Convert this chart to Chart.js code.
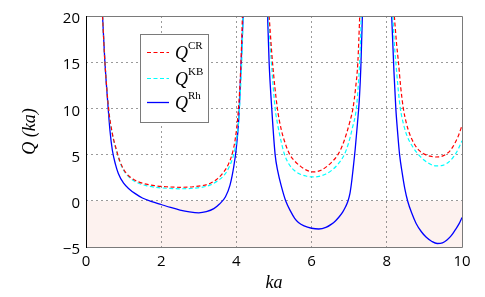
<!DOCTYPE html>
<html>
<head>
<meta charset="utf-8">
<script src="https://cdn.jsdelivr.net/npm/chart.js@4.4.0/dist/chart.umd.min.js"></script>
<style>
  html, body { margin: 0; padding: 0; background: #fff; }
  #wrap { width: 485px; height: 297px; }
</style>
</head>
<body>
<div id="wrap"><canvas id="qChart"></canvas></div>
<script>
// values; a null Q breaks the curve at a pole
const kaCR = [0.44, 0.50, 0.60, 0.70, 0.81, 0.90, 1.00, 1.10, 1.25, 1.40, 1.60, 1.85, 2.14, 2.50, 2.85, 3.10, 3.31, 3.50, 3.66, 3.78, 3.89, 3.97, 4.04, 4.10, 4.13, 4.16,
              4.50,
              4.87, 4.96, 5.09, 5.20, 5.30, 5.42, 5.55, 5.70, 5.85, 6.05, 6.25, 6.40, 6.55, 6.70, 6.82, 6.93, 7.02, 7.10, 7.17, 7.23, 7.28,
              7.70,
              8.20, 8.26, 8.31, 8.37, 8.44, 8.52, 8.62, 8.74, 8.86, 9.00, 9.15, 9.30, 9.45, 9.58, 9.70, 9.80, 9.90, 10.0];
const qCR  = [20, 15.2, 10, 7.3, 5.5, 4.3, 3.4, 2.85, 2.35, 2.05, 1.8, 1.62, 1.52, 1.46, 1.52, 1.65, 1.9, 2.4, 3.1, 3.9, 5.1, 6.7, 9.2, 13, 16, 20,
              null,
              20, 15, 10, 7.6, 6.2, 5.0, 4.3, 3.75, 3.35, 3.12, 3.3, 3.7, 4.25, 5.0, 6.0, 7.3, 8.6, 10, 12.2, 15, 20,
              null,
              20, 17, 15, 12.3, 10, 8.4, 7.1, 6.1, 5.45, 5.05, 4.83, 4.74, 4.8, 5.05, 5.5, 6.15, 7.0, 8.15];

const kaKB = [0.44, 0.50, 0.60, 0.70, 0.81, 0.90, 1.00, 1.10, 1.25, 1.40, 1.60, 1.85, 2.14, 2.50, 2.85, 3.10, 3.31, 3.50, 3.68, 3.80, 3.92, 4.00, 4.07, 4.12, 4.15, 4.18,
              4.50,
              4.85, 4.93, 5.03, 5.10, 5.18, 5.28, 5.40, 5.55, 5.70, 5.85, 6.02, 6.20, 6.38, 6.55, 6.72, 6.87, 6.98, 7.08, 7.19, 7.25, 7.29, 7.32,
              7.70,
              8.16, 8.20, 8.24, 8.30, 8.36, 8.45, 8.55, 8.68, 8.80, 8.95, 9.10, 9.30, 9.45, 9.58, 9.70, 9.80, 9.90, 10.0];
const qKB  = [20, 15.2, 10, 7.2, 5.4, 4.2, 3.3, 2.75, 2.22, 1.9, 1.64, 1.46, 1.36, 1.3, 1.36, 1.48, 1.72, 2.15, 2.8, 3.6, 4.9, 6.5, 9.2, 13, 16, 20,
              null,
              20, 15, 10, 8.2, 6.6, 5.0, 3.95, 3.25, 2.88, 2.68, 2.58, 2.65, 2.9, 3.35, 4.05, 5.0, 6.2, 7.8, 10, 13, 16, 20,
              null,
              20, 17, 15, 12.2, 10, 8.2, 6.9, 5.9, 5.2, 4.55, 4.1, 3.78, 3.8, 4.0, 4.4, 4.9, 5.6, 6.5];

const kaRh = [0.44, 0.50, 0.59, 0.64, 0.70, 0.78, 0.86, 1.00, 1.17, 1.30, 1.50, 1.75, 2.00, 2.25, 2.50, 2.75, 3.00, 3.20, 3.40, 3.55, 3.71, 3.83, 3.93, 4.00, 4.06, 4.13, 4.18,
              4.50,
              4.83, 4.87, 4.94, 5.03, 5.10, 5.20, 5.31, 5.45, 5.55, 5.65, 5.80, 6.00, 6.19, 6.38, 6.52, 6.64, 6.74, 6.83, 6.91, 6.97, 7.02, 7.06, 7.10, 7.16, 7.22, 7.27, 7.31, 7.35,
              7.70,
              8.13, 8.16, 8.19, 8.24, 8.29, 8.34, 8.41, 8.48, 8.56, 8.66, 8.78, 8.92, 9.05, 9.20, 9.34, 9.48, 9.60, 9.72, 9.82, 9.92, 10.0];
const qRh  = [20, 15.2, 10, 7.5, 5.5, 4.0, 2.96, 1.9, 1.2, 0.8, 0.3, -0.08, -0.4, -0.72, -1.0, -1.2, -1.3, -1.18, -0.85, -0.35, 0.44, 1.7, 3.7, 5.8, 8.7, 15.2, 20,
              null,
              20, 15, 10, 5.0, 3.2, 1.5, 0, -1.2, -1.9, -2.35, -2.72, -2.97, -3.05, -2.88, -2.55, -2.15, -1.7, -1.2, -0.6, 0.0, 0.8, 1.9, 3.3, 5.6, 8.4, 11, 14.5, 20,
              null,
              20, 17, 14, 10, 7.3, 5.0, 3.0, 1.3, -0.1, -1.3, -2.45, -3.35, -3.95, -4.4, -4.62, -4.55, -4.25, -3.75, -3.15, -2.5, -1.8];

const seriesNames = [['Q', 'CR'], ['Q', 'KB'], ['Q', 'Rh']];
const xTicks = [0, 2, 4, 6, 8, 10];
const yTicks = [-5, 0, 5, 10, 15, 20];
const negBand = [-5, 0];

const red = '#ff0000';
const cyan = '#00ffff';
const blue = '#0000ff';
const gridGray = 'rgba(100,100,100,0.65)';

function pts(xs, ys) {
    return xs.map((x, i) => ({ x: x, y: ys[i] }));
}

// light pink band under Q = 0
const shadeBand = {
    id: 'shadeBand',
    beforeDraw(chart) {
        const { ctx, chartArea: a, scales: { y } } = chart;
        const top = y.getPixelForValue(negBand[1]);
        const bot = y.getPixelForValue(negBand[0]);
        ctx.save();
        ctx.fillStyle = '#fdf2ef';
        ctx.fillRect(a.left, top, a.right - a.left, bot - top);
        ctx.restore();
    }
};

// box round the plot, matlab style
const frame = {
    id: 'frame',
    afterDatasetsDraw(chart) {
        const { ctx, chartArea: a } = chart;
        ctx.save();
        ctx.lineWidth = 1;
        ctx.strokeStyle = '#7a7a7a';
        ctx.beginPath();
        ctx.moveTo(a.left, a.top + 0.5);
        ctx.lineTo(a.right + 0.5, a.top + 0.5);
        ctx.lineTo(a.right + 0.5, a.bottom + 0.5);
        ctx.lineTo(a.left, a.bottom + 0.5);
        ctx.stroke();
        ctx.strokeStyle = '#000';
        ctx.beginPath();
        ctx.moveTo(a.left + 0.5, a.top);
        ctx.lineTo(a.left + 0.5, a.bottom + 1);
        ctx.stroke();
        ctx.restore();
    }
};

// legend with superscripts, drawn inside the axes
const supLegend = {
    id: 'supLegend',
    afterDraw(chart) {
        const { ctx } = chart;
        const bx = 140, by = 34, bw = 68, bh = 88;
        ctx.save();
        ctx.fillStyle = '#fff';
        ctx.fillRect(bx, by, bw, bh);
        ctx.strokeStyle = '#7a7a7a';
        ctx.lineWidth = 1;
        ctx.strokeRect(bx + 0.5, by + 0.5, bw, bh);
        const rows = [52, 78, 102];
        chart.data.datasets.forEach((ds, i) => {
            const yy = rows[i];
            ctx.strokeStyle = ds.borderColor;
            ctx.lineWidth = ds.borderWidth;
            ctx.setLineDash(ds.borderDash || []);
            ctx.beginPath();
            ctx.moveTo(147, yy + 0.5);
            ctx.lineTo(169, yy + 0.5);
            ctx.stroke();
            ctx.setLineDash([]);
            ctx.fillStyle = '#000';
            ctx.textBaseline = 'alphabetic';
            ctx.font = 'italic 18px "Liberation Serif"';
            ctx.fillText(seriesNames[i][0], 175, yy + 7);
            ctx.font = '11px "Liberation Serif"';
            ctx.fillText(seriesNames[i][1], 188, yy - 3);
        });
        ctx.restore();
    }
};

const gridFor = (lastIdx) => ({
    drawTicks: false,
    lineWidth: 1,
    color: c => (c.index === 0 || c.index === lastIdx) ? 'rgba(0,0,0,0)' : gridGray
});

new Chart(document.getElementById('qChart'), {
    type: 'line',
    data: {
        datasets: [
            { label: 'Q^CR', data: pts(kaCR, qCR), borderColor: red, borderWidth: 1.2, borderDash: [4, 2.5] },
            { label: 'Q^KB', data: pts(kaKB, qKB), borderColor: cyan, borderWidth: 1.2, borderDash: [4, 2.5] },
            { label: 'Q^Rh', data: pts(kaRh, qRh), borderColor: blue, borderWidth: 1.3 }
        ]
    },
    options: {
        responsive: true,
        maintainAspectRatio: false,
        animation: false,
        parsing: false,
        elements: { point: { radius: 0 }, line: { cubicInterpolationMode: 'monotone', fill: false } },
        layout: { padding: { top: 16, right: 23, bottom: 0, left: 0 } },
        plugins: { legend: { display: false }, tooltip: { enabled: false } },
        scales: {
            x: {
                type: 'linear',
                min: xTicks[0],
                max: xTicks[xTicks.length - 1],
                afterBuildTicks: s => { s.ticks = xTicks.map(v => ({ value: v })); },
                afterFit: s => { s.height = 50; },
                border: { display: false, dash: [2, 3] },
                grid: gridFor(xTicks.length - 1),
                ticks: { color: '#000', padding: 6, maxRotation: 0, font: { family: 'Open Sans', size: 15 } },
                title: { display: true, text: 'ka', color: '#000', padding: { top: 0, bottom: 3 },
                         font: { family: 'Liberation Serif', style: 'italic', size: 18 } }
            },
            y: {
                type: 'linear',
                min: yTicks[0],
                max: yTicks[yTicks.length - 1],
                afterBuildTicks: s => { s.ticks = yTicks.map(v => ({ value: v })); },
                afterFit: s => { s.width = 86; },
                border: { display: false, dash: [2, 3] },
                grid: gridFor(yTicks.length - 1),
                ticks: { color: '#000', padding: 6, labelOffset: 3,
                         font: { family: 'Open Sans', size: 15 },
                         callback: v => v < 0 ? '\u2212' + Math.abs(v) : String(v) },
                title: { display: true, text: 'Q (ka)', color: '#000', padding: { top: 19, bottom: 0 },
                         font: { family: 'Liberation Serif', style: 'italic', size: 18 } }
            }
        }
    },
    plugins: [shadeBand, frame, supLegend]
});
</script>
</body>
</html>
